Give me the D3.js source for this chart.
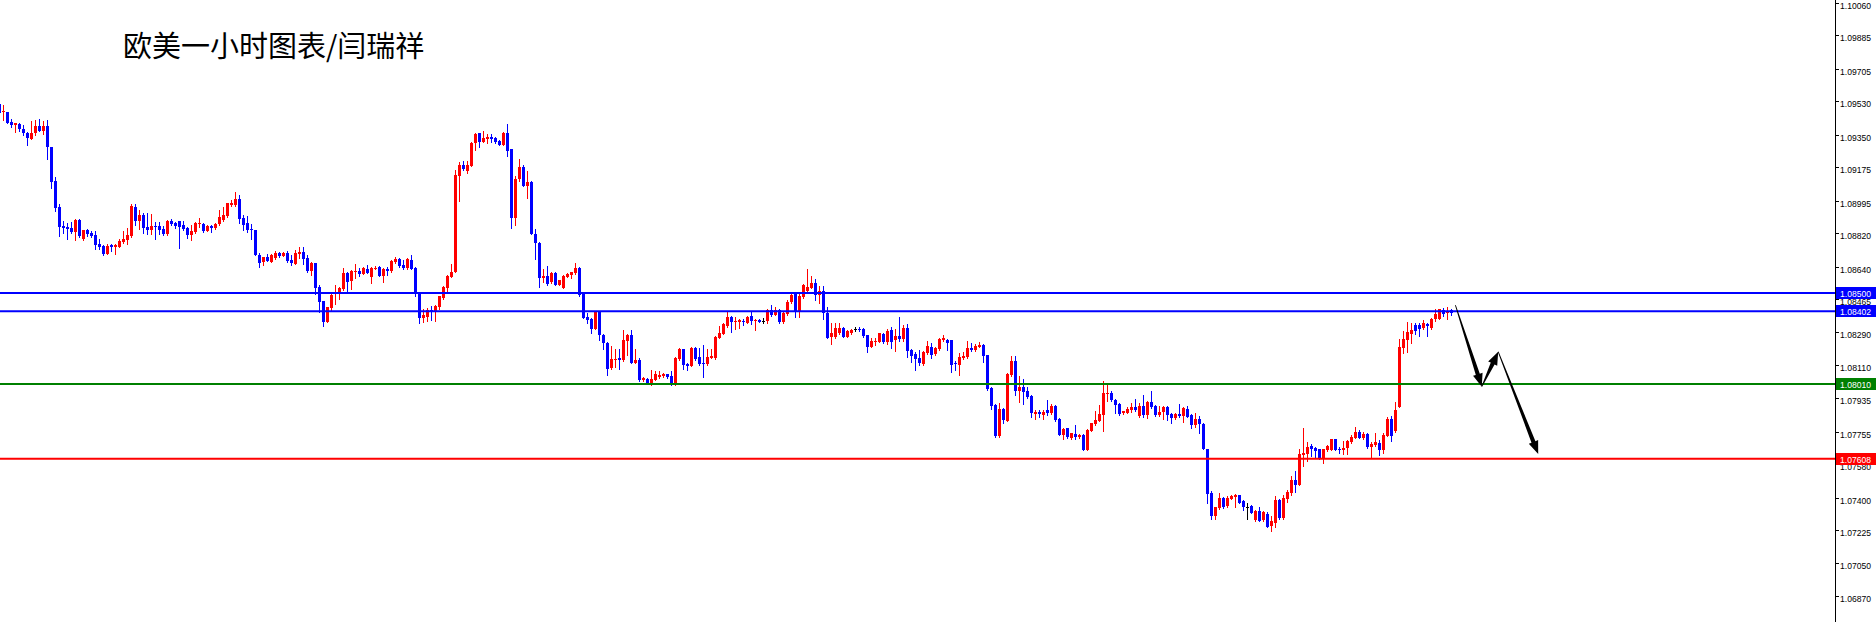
<!DOCTYPE html>
<html><head><meta charset="utf-8">
<script src="https://cdn.jsdelivr.net/npm/d3@7"></script>
<style>html,body{margin:0;padding:0;background:#fff;overflow:hidden}</style>
</head><body>
<svg id="c" width="1876" height="622"></svg>
<script>
const opens = [
1.09516,1.09471,1.09473,1.09419,1.09405,1.09410,1.09381,1.09360,1.09329,1.09362,
1.09397,1.09371,1.09397,1.09283,1.09100,1.08960,1.08860,1.08855,1.08849,1.08829,
1.08892,1.08788,1.08838,1.08824,1.08813,1.08763,1.08752,1.08709,1.08756,1.08745,
1.08749,1.08774,1.08785,1.08806,1.08962,1.08889,1.08921,1.08856,1.08838,1.08862,
1.08860,1.08844,1.08817,1.08887,1.08874,1.08887,1.08865,1.08849,1.08812,1.08829,
1.08871,1.08871,1.08835,1.08862,1.08849,1.08871,1.08892,1.08914,1.08973,1.08973,
1.09007,1.08905,1.08878,1.08842,1.08838,1.08706,1.08666,1.08695,1.08668,1.08686,
1.08717,1.08700,1.08717,1.08677,1.08657,1.08709,1.08722,1.08690,1.08620,1.08659,
1.08532,1.08457,1.08346,1.08420,1.08495,1.08495,1.08522,1.08608,1.08563,1.08613,
1.08619,1.08604,1.08629,1.08588,1.08629,1.08642,1.08593,1.08627,1.08619,1.08667,
1.08681,1.08651,1.08635,1.08678,1.08635,1.08504,1.08368,1.08373,1.08409,1.08395,
1.08427,1.08472,1.08529,1.08588,1.08613,1.09131,1.09188,1.09156,1.09185,1.09305,
1.09360,1.09314,1.09328,1.09339,1.09335,1.09319,1.09298,1.09362,1.09274,1.08905,
1.09110,1.09178,1.09077,1.09099,1.08817,1.08771,1.08583,1.08593,1.08559,1.08608,
1.08545,1.08529,1.08588,1.08599,1.08606,1.08635,1.08493,1.08373,1.08360,1.08308,
1.08398,1.08276,1.08231,1.08097,1.08143,1.08150,1.08140,1.08242,1.08274,1.08125,
1.08140,1.08032,1.08039,1.08018,1.08032,1.08050,1.08055,1.08064,1.08054,1.08009,
1.08145,1.08199,1.08120,1.08109,1.08202,1.08156,1.08125,1.08116,1.08152,1.08149,
1.08260,1.08281,1.08322,1.08371,1.08344,1.08346,1.08351,1.08340,1.08378,1.08349,
1.08357,1.08351,1.08351,1.08407,1.08383,1.08407,1.08344,1.08387,1.08450,1.08496,
1.08396,1.08478,1.08512,1.08529,1.08554,1.08491,1.08511,1.08394,1.08262,1.08262,
1.08283,1.08312,1.08265,1.08283,1.08305,1.08306,1.08305,1.08272,1.08211,1.08238,
1.08236,1.08279,1.08236,1.08301,1.08247,1.08269,1.08254,1.08312,1.08193,1.08174,
1.08150,1.08118,1.08175,1.08209,1.08172,1.08199,1.08247,1.08247,1.08247,1.08123,
1.08114,1.08150,1.08157,1.08204,1.08193,1.08209,1.08218,1.08165,1.07989,1.07899,
1.07729,1.07876,1.07812,1.08059,1.08134,1.07973,1.07996,1.07973,1.07946,1.07849,
1.07858,1.07846,1.07871,1.07853,1.07892,1.07824,1.07738,1.07772,1.07722,1.07742,
1.07727,1.07738,1.07657,1.07760,1.07795,1.07813,1.07844,1.07958,1.07962,1.07924,
1.07903,1.07853,1.07856,1.07871,1.07885,1.07838,1.07892,1.07844,1.07915,1.07892,
1.07844,1.07860,1.07889,1.07851,1.07826,1.07849,1.07840,1.07876,1.07844,1.07792,
1.07823,1.07796,1.07663,1.07425,1.07301,1.07344,1.07398,1.07355,1.07394,1.07401,
1.07414,1.07380,1.07351,1.07355,1.07280,1.07330,1.07280,1.07312,1.07247,1.07265,
1.07387,1.07290,1.07392,1.07427,1.07495,1.07470,1.07631,1.07634,1.07676,1.07668,
1.07659,1.07611,1.07658,1.07658,1.07715,1.07663,1.07658,1.07665,1.07699,1.07722,
1.07753,1.07722,1.07740,1.07670,1.07681,1.07695,1.07656,1.07733,1.07821,1.07756,
1.07889,1.08204,1.08247,1.08280,1.08330,1.08330,1.08312,1.08335,1.08312,1.08358,
1.08362,1.08410,1.08391,1.08409];
const highs = [
1.09520,1.09510,1.09473,1.09433,1.09412,1.09412,1.09401,1.09367,1.09423,1.09430,
1.09433,1.09426,1.09430,1.09286,1.09121,1.08978,1.08889,1.08878,1.08881,1.08899,
1.08899,1.08838,1.08844,1.08833,1.08831,1.08788,1.08756,1.08763,1.08761,1.08761,
1.08792,1.08835,1.08849,1.08978,1.08976,1.08946,1.08928,1.08932,1.08924,1.08883,
1.08883,1.08860,1.08892,1.08896,1.08881,1.08887,1.08887,1.08853,1.08865,1.08881,
1.08903,1.08874,1.08863,1.08867,1.08874,1.08946,1.08964,1.08985,1.09000,1.09043,
1.09025,1.08917,1.08914,1.08869,1.08838,1.08713,1.08695,1.08709,1.08708,1.08724,
1.08722,1.08722,1.08725,1.08702,1.08731,1.08747,1.08749,1.08704,1.08666,1.08663,
1.08543,1.08457,1.08427,1.08500,1.08545,1.08534,1.08635,1.08613,1.08624,1.08656,
1.08635,1.08638,1.08649,1.08638,1.08645,1.08647,1.08635,1.08642,1.08678,1.08696,
1.08688,1.08678,1.08688,1.08705,1.08638,1.08507,1.08412,1.08420,1.08430,1.08434,
1.08486,1.08538,1.08599,1.08653,1.09161,1.09206,1.09208,1.09212,1.09310,1.09359,
1.09362,1.09369,1.09355,1.09353,1.09341,1.09323,1.09366,1.09409,1.09274,1.09129,
1.09222,1.09190,1.09156,1.09102,1.08844,1.08774,1.08631,1.08645,1.08613,1.08611,
1.08572,1.08597,1.08606,1.08615,1.08662,1.08642,1.08506,1.08391,1.08364,1.08402,
1.08402,1.08279,1.08236,1.08213,1.08197,1.08201,1.08299,1.08279,1.08301,1.08199,
1.08149,1.08050,1.08043,1.08086,1.08082,1.08082,1.08072,1.08066,1.08082,1.08154,
1.08204,1.08201,1.08122,1.08208,1.08208,1.08202,1.08222,1.08201,1.08199,1.08267,
1.08322,1.08339,1.08405,1.08374,1.08373,1.08362,1.08362,1.08376,1.08396,1.08358,
1.08362,1.08365,1.08412,1.08437,1.08425,1.08412,1.08396,1.08462,1.08502,1.08502,
1.08502,1.08546,1.08627,1.08591,1.08577,1.08538,1.08538,1.08423,1.08337,1.08337,
1.08337,1.08315,1.08301,1.08305,1.08315,1.08315,1.08310,1.08276,1.08258,1.08258,
1.08287,1.08283,1.08305,1.08319,1.08308,1.08369,1.08328,1.08333,1.08197,1.08182,
1.08193,1.08186,1.08240,1.08233,1.08211,1.08256,1.08274,1.08251,1.08249,1.08132,
1.08179,1.08182,1.08240,1.08229,1.08225,1.08236,1.08225,1.08168,1.07993,1.07903,
1.07906,1.07880,1.08070,1.08161,1.08161,1.08053,1.08037,1.07993,1.07950,1.07871,
1.07871,1.07871,1.07924,1.07903,1.07896,1.07828,1.07772,1.07776,1.07749,1.07788,
1.07742,1.07742,1.07767,1.07803,1.07864,1.07898,1.08027,1.08010,1.07975,1.07932,
1.07906,1.07867,1.07885,1.07906,1.07932,1.07906,1.07951,1.07921,1.07973,1.07896,
1.07892,1.07892,1.07892,1.07856,1.07853,1.07903,1.07889,1.07892,1.07847,1.07856,
1.07839,1.07799,1.07663,1.07434,1.07351,1.07427,1.07405,1.07409,1.07412,1.07419,
1.07416,1.07387,1.07369,1.07358,1.07333,1.07351,1.07330,1.07324,1.07301,1.07409,
1.07391,1.07414,1.07441,1.07516,1.07541,1.07659,1.07774,1.07701,1.07688,1.07674,
1.07663,1.07663,1.07681,1.07717,1.07717,1.07674,1.07706,1.07710,1.07735,1.07778,
1.07763,1.07753,1.07745,1.07701,1.07745,1.07710,1.07745,1.07832,1.07839,1.07914,
1.08251,1.08294,1.08344,1.08340,1.08340,1.08337,1.08355,1.08339,1.08365,1.08412,
1.08416,1.08419,1.08423,1.08416];
const lows = [
1.09464,1.09430,1.09412,1.09394,1.09367,1.09372,1.09351,1.09297,1.09329,1.09351,
1.09369,1.09354,1.09222,1.09066,1.08939,1.08808,1.08824,1.08792,1.08820,1.08785,
1.08801,1.08785,1.08808,1.08803,1.08738,1.08734,1.08704,1.08708,1.08727,1.08711,
1.08745,1.08767,1.08761,1.08803,1.08865,1.08844,1.08820,1.08815,1.08817,1.08792,
1.08817,1.08813,1.08813,1.08867,1.08851,1.08743,1.08838,1.08795,1.08786,1.08824,
1.08856,1.08828,1.08831,1.08828,1.08846,1.08867,1.08889,1.08910,1.08969,1.08969,
1.08878,1.08838,1.08829,1.08788,1.08702,1.08641,1.08652,1.08670,1.08666,1.08682,
1.08695,1.08697,1.08668,1.08648,1.08656,1.08688,1.08656,1.08614,1.08598,1.08494,
1.08398,1.08323,1.08344,1.08409,1.08438,1.08470,1.08516,1.08513,1.08520,1.08579,
1.08593,1.08601,1.08606,1.08556,1.08627,1.08592,1.08561,1.08599,1.08615,1.08662,
1.08642,1.08631,1.08631,1.08629,1.08481,1.08341,1.08343,1.08350,1.08355,1.08350,
1.08412,1.08470,1.08511,1.08584,1.08610,1.08997,1.09163,1.09147,1.09181,1.09269,
1.09287,1.09310,1.09307,1.09312,1.09307,1.09294,1.09294,1.09237,1.08851,1.08866,
1.09104,1.09075,1.09013,1.08817,1.08683,1.08534,1.08559,1.08541,1.08556,1.08541,
1.08543,1.08527,1.08584,1.08583,1.08602,1.08484,1.08366,1.08337,1.08285,1.08305,
1.08248,1.08197,1.08059,1.08093,1.08100,1.08093,1.08134,1.08165,1.08122,1.08122,
1.08029,1.08029,1.08014,1.08005,1.08030,1.08045,1.08050,1.08045,1.08007,1.08005,
1.08141,1.08091,1.08086,1.08106,1.08140,1.08113,1.08050,1.08113,1.08149,1.08145,
1.08258,1.08278,1.08319,1.08292,1.08305,1.08314,1.08330,1.08337,1.08333,1.08301,
1.08344,1.08340,1.08340,1.08378,1.08380,1.08337,1.08340,1.08382,1.08448,1.08373,
1.08369,1.08475,1.08509,1.08527,1.08462,1.08448,1.08358,1.08256,1.08224,1.08258,
1.08279,1.08262,1.08262,1.08279,1.08297,1.08294,1.08265,1.08184,1.08208,1.08222,
1.08235,1.08229,1.08226,1.08202,1.08190,1.08243,1.08243,1.08157,1.08129,1.08086,
1.08114,1.08114,1.08172,1.08150,1.08165,1.08195,1.08240,1.08193,1.08077,1.08086,
1.08059,1.08147,1.08150,1.08190,1.08190,1.08208,1.08130,1.07978,1.07878,1.07727,
1.07726,1.07803,1.07810,1.08055,1.07951,1.07914,1.07903,1.07933,1.07835,1.07824,
1.07835,1.07824,1.07844,1.07847,1.07813,1.07734,1.07717,1.07720,1.07717,1.07717,
1.07722,1.07656,1.07656,1.07756,1.07792,1.07810,1.07760,1.07919,1.07921,1.07853,
1.07846,1.07849,1.07853,1.07860,1.07865,1.07835,1.07831,1.07829,1.07881,1.07838,
1.07840,1.07820,1.07817,1.07803,1.07820,1.07835,1.07806,1.07831,1.07774,1.07781,
1.07745,1.07659,1.07369,1.07283,1.07283,1.07340,1.07344,1.07348,1.07391,1.07348,
1.07369,1.07333,1.07287,1.07315,1.07276,1.07272,1.07276,1.07240,1.07222,1.07240,
1.07287,1.07287,1.07376,1.07416,1.07430,1.07466,1.07570,1.07599,1.07624,1.07616,
1.07606,1.07584,1.07652,1.07654,1.07656,1.07642,1.07634,1.07634,1.07695,1.07719,
1.07719,1.07717,1.07667,1.07615,1.07677,1.07627,1.07638,1.07729,1.07706,1.07753,
1.07885,1.08176,1.08183,1.08233,1.08280,1.08270,1.08308,1.08270,1.08308,1.08349,
1.08358,1.08376,1.08362,1.08383];
const closes = [
1.09469,1.09476,1.09415,1.09405,1.09412,1.09380,1.09358,1.09335,1.09360,1.09397,
1.09372,1.09397,1.09283,1.09098,1.08958,1.08856,1.08849,1.08842,1.08829,1.08892,
1.08806,1.08838,1.08817,1.08808,1.08760,1.08749,1.08709,1.08752,1.08745,1.08756,
1.08779,1.08790,1.08812,1.08967,1.08889,1.08921,1.08851,1.08838,1.08860,1.08855,
1.08838,1.08817,1.08889,1.08871,1.08860,1.08856,1.08842,1.08813,1.08833,1.08878,
1.08878,1.08835,1.08860,1.08851,1.08871,1.08910,1.08919,1.08982,1.08985,1.09007,
1.08899,1.08867,1.08838,1.08836,1.08706,1.08663,1.08693,1.08673,1.08704,1.08717,
1.08699,1.08717,1.08673,1.08659,1.08717,1.08722,1.08684,1.08620,1.08663,1.08527,
1.08454,1.08346,1.08427,1.08489,1.08500,1.08527,1.08608,1.08559,1.08619,1.08617,
1.08602,1.08635,1.08608,1.08635,1.08636,1.08593,1.08631,1.08619,1.08672,1.08683,
1.08647,1.08635,1.08683,1.08631,1.08500,1.08368,1.08382,1.08409,1.08395,1.08430,
1.08481,1.08532,1.08593,1.08613,1.09135,1.09188,1.09167,1.09188,1.09307,1.09355,
1.09314,1.09335,1.09341,1.09330,1.09312,1.09298,1.09362,1.09265,1.08905,1.09115,
1.09178,1.09077,1.09099,1.08819,1.08767,1.08583,1.08593,1.08549,1.08608,1.08545,
1.08572,1.08593,1.08602,1.08610,1.08635,1.08489,1.08368,1.08355,1.08308,1.08398,
1.08275,1.08229,1.08091,1.08145,1.08147,1.08140,1.08247,1.08274,1.08125,1.08140,
1.08032,1.08043,1.08018,1.08038,1.08064,1.08059,1.08064,1.08048,1.08011,1.08149,
1.08199,1.08115,1.08109,1.08202,1.08145,1.08116,1.08116,1.08156,1.08161,1.08262,
1.08283,1.08333,1.08371,1.08346,1.08351,1.08353,1.08344,1.08373,1.08351,1.08357,
1.08346,1.08351,1.08407,1.08382,1.08407,1.08344,1.08391,1.08451,1.08487,1.08400,
1.08482,1.08541,1.08534,1.08554,1.08491,1.08511,1.08394,1.08258,1.08283,1.08312,
1.08312,1.08265,1.08296,1.08303,1.08305,1.08301,1.08269,1.08211,1.08244,1.08244,
1.08283,1.08236,1.08297,1.08238,1.08269,1.08251,1.08312,1.08190,1.08161,1.08147,
1.08125,1.08182,1.08215,1.08166,1.08204,1.08252,1.08258,1.08233,1.08114,1.08116,
1.08156,1.08163,1.08204,1.08193,1.08217,1.08222,1.08161,1.07984,1.07892,1.07731,
1.07876,1.07817,1.08066,1.08134,1.07973,1.07996,1.07967,1.07942,1.07853,1.07858,
1.07849,1.07858,1.07853,1.07892,1.07817,1.07738,1.07769,1.07724,1.07745,1.07724,
1.07738,1.07657,1.07763,1.07799,1.07817,1.07849,1.07962,1.07962,1.07924,1.07899,
1.07849,1.07864,1.07878,1.07889,1.07871,1.07892,1.07844,1.07915,1.07885,1.07844,
1.07862,1.07889,1.07844,1.07828,1.07849,1.07840,1.07883,1.07835,1.07792,1.07822,
1.07796,1.07663,1.07421,1.07301,1.07348,1.07398,1.07349,1.07398,1.07409,1.07414,
1.07373,1.07351,1.07351,1.07319,1.07330,1.07276,1.07323,1.07244,1.07272,1.07387,
1.07290,1.07396,1.07432,1.07495,1.07470,1.07634,1.07642,1.07672,1.07659,1.07649,
1.07611,1.07659,1.07676,1.07715,1.07658,1.07658,1.07668,1.07706,1.07728,1.07753,
1.07722,1.07740,1.07670,1.07688,1.07699,1.07656,1.07738,1.07821,1.07731,1.07871,
1.08208,1.08251,1.08290,1.08301,1.08297,1.08308,1.08339,1.08322,1.08362,1.08387,
1.08412,1.08389,1.08405,1.08394];

const tickLabels = ["1.10060","1.09885","1.09705","1.09530","1.09350","1.09175","1.08995","1.08820","1.08640","1.08465","1.08290","1.08110","1.07935","1.07755","1.07580","1.07400","1.07225","1.07050","1.06870"];
const levelValues = [1.08500, 1.08402, 1.08010, 1.07608];
const levelLabels = ["1.08500", "1.08402", "1.08010", "1.07608"];
// forecast arrows: [bar index, price] pairs
const arrowPaths = [
  [[364.1, 1.08435], [370.7, 1.07996]],
  [[370.7, 1.07996], [374.8, 1.08184]],
  [[374.8, 1.08184], [384.8, 1.07634]]
];
const titleText = "欧美一小时图表/闫瑞祥";

// ---------- styles / layout ----------
const W = 1876, H = 622, axisX = 1835;
const levelColors = ["#0000FF", "#0000FF", "#008000", "#FF0000"];
const UP = "#FF0000", DOWN = "#0000FF", DOJI = "#000000";
const axisFont = "'Liberation Sans', Arial, sans-serif";
const axisFontSize = 9.5;

const svg = d3.select("#c");
const n = opens.length;
const x = d3.scaleLinear().domain([0, n - 1]).range([-1, 4 * (n - 1) - 1]);
const y = d3.scaleLinear().domain([1.06731, 1.10075]).range([H, 0]);

svg.append("rect").attr("width", W).attr("height", H).attr("fill", "#fff");

const bars = d3.range(n).map(i => ({i, o: opens[i], h: highs[i], l: lows[i], c: closes[i]}));
const col = d => d.c > d.o ? UP : (d.c < d.o ? DOWN : DOJI);

const g = svg.append("g").attr("shape-rendering", "crispEdges");
g.selectAll("rect.wick").data(bars).join("rect")
  .attr("class", "wick")
  .attr("x", d => Math.round(x(d.i)))
  .attr("y", d => Math.round(y(d.h)))
  .attr("width", 1)
  .attr("height", d => Math.max(1, Math.round(y(d.l)) - Math.round(y(d.h)) + 1))
  .attr("fill", col);
g.selectAll("rect.body").data(bars).join("rect")
  .attr("class", "body")
  .attr("x", d => Math.round(x(d.i)) - 1)
  .attr("y", d => Math.round(y(Math.max(d.o, d.c))))
  .attr("width", 3)
  .attr("height", d => Math.max(1, Math.round(y(Math.min(d.o, d.c))) - Math.round(y(Math.max(d.o, d.c)))))
  .attr("fill", col);

// horizontal level lines
svg.append("g").selectAll("line").data(levelValues).join("line")
  .attr("x1", 0).attr("x2", axisX)
  .attr("y1", d => y(d)).attr("y2", d => y(d))
  .attr("stroke", (d, i) => levelColors[i]).attr("stroke-width", 2);

// forecast arrows (tapered shaft + head)
function arrowPoly(p0, p1) {
  const [x0, y0] = p0, [x1, y1] = p1;
  const dx = x1 - x0, dy = y1 - y0, L = Math.hypot(dx, dy);
  const ux = dx / L, uy = dy / L, nx = -uy, ny = ux;
  const headL = 13, headW = 5, w0 = 0.4, w1 = 2.1;
  const bx = x1 - ux * headL, by = y1 - uy * headL;
  return [
    [x0 + nx * w0, y0 + ny * w0], [bx + nx * w1, by + ny * w1],
    [bx + nx * headW, by + ny * headW], [x1, y1],
    [bx - nx * headW, by - ny * headW], [bx - nx * w1, by - ny * w1],
    [x0 - nx * w0, y0 - ny * w0]
  ];
}
svg.append("g").selectAll("path").data(arrowPaths).join("path")
  .attr("d", d => "M" + arrowPoly([x(d[0][0]), y(d[0][1])], [x(d[1][0]), y(d[1][1])]).map(p => p.join(",")).join("L") + "Z")
  .attr("fill", "#000");

// right price axis
const ax = svg.append("g");
ax.append("rect").attr("x", axisX + 0.5).attr("y", 0).attr("width", W - axisX).attr("height", H).attr("fill", "#fff");
ax.append("line").attr("x1", axisX + 0.5).attr("x2", axisX + 0.5).attr("y1", 0).attr("y2", H)
  .attr("stroke", "#000").attr("stroke-width", 1);
const tk = ax.selectAll("g.tick").data(tickLabels).join("g").attr("class", "tick")
  .attr("transform", d => `translate(0,${Math.round(y(+d))})`);
tk.append("line").attr("x1", axisX + 1).attr("x2", axisX + 4).attr("y1", 0.5).attr("y2", 0.5)
  .attr("stroke", "#000").attr("shape-rendering", "crispEdges");
tk.append("text").attr("x", axisX + 5)
  .attr("y", d => Math.max(6, 9 - Math.round(y(+d))))
  .attr("font-family", axisFont).attr("font-size", axisFontSize)
  .attr("textLength", 31).attr("lengthAdjust", "spacingAndGlyphs")
  .attr("fill", "#000").text(d => d);

const lv = ax.selectAll("g.lvl").data(levelValues).join("g").attr("class", "lvl")
  .attr("transform", d => `translate(0,${Math.round(y(d))})`);
lv.append("rect").attr("x", axisX + 1).attr("y", -6).attr("width", W - axisX - 1).attr("height", 12)
  .attr("fill", (d, i) => levelColors[i]);
lv.append("text").attr("x", axisX + 5).attr("y", 4)
  .attr("font-family", axisFont).attr("font-size", axisFontSize)
  .attr("textLength", 31).attr("lengthAdjust", "spacingAndGlyphs")
  .attr("fill", "#fff").text((d, i) => levelLabels[i]);

// title
svg.append("text").attr("x", 123).attr("y", 57)
  .attr("font-family", "'Noto Sans CJK SC', sans-serif").attr("font-size", 29)
  .attr("fill", "#000").text(titleText);
</script>
</body></html>
